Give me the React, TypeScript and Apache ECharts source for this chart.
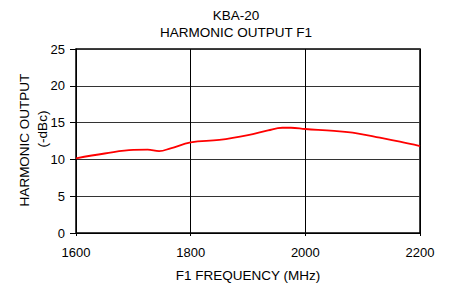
import React, { useEffect, useRef } from "react";
import * as echarts from "echarts";

const frequencies = [1600, 1650, 1700, 1725, 1745, 1765, 1800, 1850, 1900, 1935, 1960, 1975, 2000, 2050, 2090, 2130, 2165, 2200];
const harmonic = [10.15, 10.8, 11.3, 11.32, 11.13, 11.5, 12.3, 12.65, 13.3, 13.95, 14.3, 14.3, 14.13, 13.88, 13.55, 12.95, 12.4, 11.8];
const titleLines = ["KBA-20", "HARMONIC OUTPUT F1"];
const xName = "F1 FREQUENCY (MHz)";
const yNameLines = ["HARMONIC OUTPUT", "(-dBc)"];

const FONT = "'Liberation Sans', Arial, sans-serif";

export default function App() {
  const ref = useRef<HTMLDivElement>(null);
  useEffect(() => {
    if (!ref.current) return;
    const chart = echarts.init(ref.current, null, { renderer: "svg" });
    chart.setOption({
      animation: false,
      backgroundColor: "#fff",
      grid: { left: 76, right: 31, top: 49, bottom: 50, show: true, borderColor: "#000", borderWidth: 1.5, backgroundColor: "transparent" },
      xAxis: {
        type: "value",
        min: 1600,
        max: 2200,
        interval: 200,
        axisLine: { show: true, lineStyle: { color: "#000", width: 1 } },
        axisTick: { show: true, length: 3, lineStyle: { color: "#000" } },
        axisLabel: { color: "#000", fontSize: 13, fontFamily: FONT, margin: 13, formatter: (v: number) => String(v) },
        splitLine: { show: true, lineStyle: { color: "#000", width: 1 } },
      },
      yAxis: {
        type: "value",
        min: 0,
        max: 25,
        interval: 5,
        axisLine: { show: true, lineStyle: { color: "#000", width: 1 } },
        axisTick: { show: true, length: 6, lineStyle: { color: "#000" } },
        axisLabel: { color: "#000", fontSize: 13, fontFamily: FONT, margin: 11 },
        splitLine: { show: true, lineStyle: { color: "#333", width: 1 } },
      },
      series: [
        {
          type: "line",
          data: frequencies.map((f, i) => [f, harmonic[i]]),
          smooth: 0.4,
          showSymbol: false,
          lineStyle: { color: "#ff0000", width: 1.8 },
        },
      ],
      graphic: [
        { type: "text", x: 236, y: 15, style: { text: titleLines[0], font: `13.5px ${FONT}`, fill: "#000", textAlign: "center", textVerticalAlign: "middle" } },
        { type: "text", x: 236, y: 32, style: { text: titleLines[1], font: `13.5px ${FONT}`, fill: "#000", textAlign: "center", textVerticalAlign: "middle" } },
        { type: "text", x: 248, y: 275.5, style: { text: xName, font: `13.5px ${FONT}`, fill: "#000", textAlign: "center", textVerticalAlign: "middle" } },
        { type: "text", x: 24, y: 140, rotation: Math.PI / 2, style: { text: yNameLines[0], font: `13.5px ${FONT}`, fill: "#000", textAlign: "center", textVerticalAlign: "middle" } },
        { type: "text", x: 42.5, y: 129, rotation: Math.PI / 2, style: { text: yNameLines[1], font: `13.5px ${FONT}`, fill: "#000", textAlign: "center", textVerticalAlign: "middle" } },
      ],
    });
    return () => chart.dispose();
  }, []);
  return <div ref={ref} style={{ width: 451, height: 283, position: "absolute", left: 0, top: 0 }} />;
}
